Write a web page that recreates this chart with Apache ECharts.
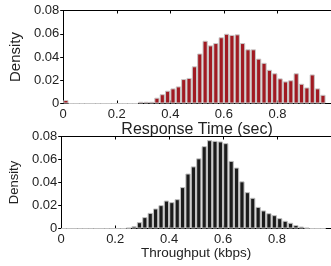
<!DOCTYPE html>
<html>
<head>
<meta charset="utf-8">
<title>Density histograms</title>
<script src="https://cdn.jsdelivr.net/npm/echarts@6/dist/echarts.min.js"></script>
<style>
  html, body { margin: 0; padding: 0; background: #fff; }
  #chart { width: 331px; height: 266px; }
</style>
</head>
<body>
<div id="chart"></div>
<script>
// bin centres (bin width 0.02)
var binCenters = [0.01, 0.03, 0.05, 0.07, 0.09, 0.11, 0.13, 0.15, 0.17, 0.19,
  0.21, 0.23, 0.25, 0.27, 0.29, 0.31, 0.33, 0.35, 0.37, 0.39,
  0.41, 0.43, 0.45, 0.47, 0.49, 0.51, 0.53, 0.55, 0.57, 0.59,
  0.61, 0.63, 0.65, 0.67, 0.69, 0.71, 0.73, 0.75, 0.77, 0.79,
  0.81, 0.83, 0.85, 0.87, 0.89, 0.91, 0.93, 0.95, 0.97];

var responseDensity = [0.003, 0, 0, 0, 0, 0, 0, 0, 0, 0,
  0, 0, 0, 0, 0.0015, 0.0015, 0.0015, 0.005, 0.008, 0.011,
  0.013, 0.0147, 0.021, 0.022, 0.032, 0.043, 0.054, 0.050, 0.052, 0.057,
  0.060, 0.059, 0.0595, 0.052, 0.0466, 0.0466, 0.0386, 0.035, 0.029, 0.026,
  0.0216, 0.019, 0.020, 0.026, 0.017, 0.0138, 0.025, 0.013, 0.0075];

var throughputDensity = [0, 0, 0, 0, 0, 0, 0, 0, 0, 0,
  0, 0, 0.0006, 0.002, 0.0055, 0.0099, 0.0136, 0.0174, 0.0203, 0.0243,
  0.0229, 0.0255, 0.036, 0.0478, 0.054, 0.061, 0.0716, 0.0768, 0.0762, 0.0757,
  0.0742, 0.0588, 0.053, 0.041, 0.0316, 0.0267, 0.0188, 0.0157, 0.0133, 0.0116,
  0.009, 0.0067, 0.005, 0.003, 0.0017, 0.0006, 0, 0, 0];

var xTicks = [0, 0.2, 0.4, 0.6, 0.8];
var yTicks = [0, 0.02, 0.04, 0.06, 0.08];

function pairs(vals) {
  var out = [];
  for (var i = 0; i < binCenters.length; i++) out.push([binCenters[i], vals[i]]);
  return out;
}

var font = 'Liberation Sans, Arial, Helvetica, sans-serif';
var ink = '#222';

function xAx(gridIndex, name, nameSize, nameGap) {
  return {
    type: 'value', gridIndex: gridIndex, min: 0, max: 1, interval: 0.2,
    name: name, nameLocation: 'middle', nameGap: nameGap,
    nameTextStyle: { fontFamily: font, fontSize: nameSize, color: ink },
    axisLine: { show: true, lineStyle: { color: '#000', width: 1 } },
    axisTick: { show: true, inside: true, length: 3, lineStyle: { color: '#000' } },
    axisLabel: { fontFamily: font, fontSize: 13, color: ink, margin: 4, showMaxLabel: false,
      formatter: function (v) { return xTicks.indexOf(Math.round(v * 10) / 10) >= 0 ? String(v) : ''; } },
    splitLine: { show: false }
  };
}
function xTop(gridIndex) {
  return {
    type: 'value', gridIndex: gridIndex, position: 'top', min: 0, max: 1, interval: 0.2,
    axisLine: { show: true, onZero: false, lineStyle: { color: '#000', width: 1 } },
    axisTick: { show: true, inside: true, length: 3, lineStyle: { color: '#000' } },
    axisLabel: { show: false }, splitLine: { show: false }
  };
}
function yAx(gridIndex, nameSize, nameGap) {
  return {
    type: 'value', gridIndex: gridIndex, min: 0, max: 0.08, interval: 0.02,
    name: 'Density', nameLocation: 'middle', nameGap: nameGap,
    nameTextStyle: { fontFamily: font, fontSize: nameSize, color: ink },
    axisLine: { show: true, lineStyle: { color: '#000', width: 1 } },
    axisTick: { show: true, inside: false, length: 3, lineStyle: { color: '#000' } },
    axisLabel: { fontFamily: font, fontSize: 13, color: ink, margin: 4,
      formatter: function (v) { return yTicks.indexOf(Math.round(v * 100) / 100) >= 0 ? String(Math.round(v * 100) / 100) : ''; } },
    splitLine: { show: false }
  };
}

var chart = echarts.init(document.getElementById('chart'), null, { renderer: 'canvas' });
chart.setOption({
  animation: false,
  backgroundColor: '#fff',
  grid: [
    { left: 61, right: -5, top: 10.5, height: 93 },
    { left: 61, right: -5, top: 136.5, height: 92 }
  ],
  xAxis: [
    xAx(0, 'Response Time (sec)', 16, 16),
    xAx(1, 'Throughput (kbps)', 13.5, 14),
    xTop(0),
    xTop(1)
  ],
  yAxis: [
    yAx(0, 15, 33),
    yAx(1, 13, 33)
  ],
  series: [
    {
      type: 'bar', xAxisIndex: 0, yAxisIndex: 0, barWidth: 5.2,
      data: pairs(responseDensity),
      itemStyle: { color: '#a11a22', borderColor: '#c8c8c8', borderWidth: 1 }
    },
    {
      type: 'bar', xAxisIndex: 1, yAxisIndex: 1, barWidth: 5.2,
      data: pairs(throughputDensity),
      itemStyle: { color: '#1b1b1b', borderColor: '#c0c0c0', borderWidth: 1 }
    }
  ]
});
</script>
</body>
</html>
